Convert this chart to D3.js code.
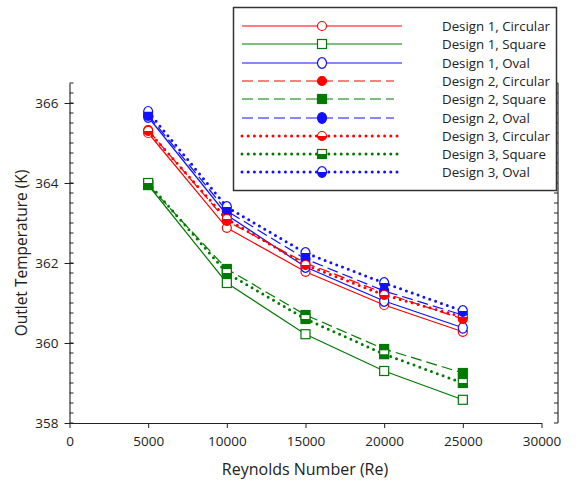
<!DOCTYPE html>
<html><head><meta charset="utf-8">
<script src="https://cdn.jsdelivr.net/npm/d3@7/dist/d3.min.js"></script>
<style>body{margin:0;background:#fff}svg{display:block}text{font-family:"Open Sans",sans-serif;fill:#222}</style>
</head><body><svg id="c" width="580" height="488"></svg>
<script>
const reynolds = [5000, 10000, 15000, 20000, 25000];
const d1Circular = [365.25, 362.88, 361.78, 360.95, 360.28];
const d1Square   = [363.95, 361.50, 360.22, 359.30, 358.58];
const d1Oval     = [365.65, 363.20, 361.90, 361.05, 360.38];
const d2Circular = [365.32, 363.05, 362.00, 361.25, 360.60];
const d2Square   = [363.95, 361.85, 360.70, 359.85, 359.25];
const d2Oval     = [365.70, 363.30, 362.10, 361.30, 360.70];
const d3Circular = [365.30, 363.10, 361.95, 361.20, 360.65];
const d3Square   = [364.00, 361.75, 360.60, 359.72, 359.00];
const d3Oval     = [365.78, 363.40, 362.25, 361.50, 360.80];
const xTicks = [0, 5000, 10000, 15000, 20000, 25000, 30000];
const yTicks = [358, 360, 362, 364, 366];
const seriesNames = ["Design 1, Circular","Design 1, Square","Design 1, Oval","Design 2, Circular","Design 2, Square","Design 2, Oval","Design 3, Circular","Design 3, Square","Design 3, Oval"];

const RED="#ff0000", GREEN="#007a00", BLUE="#1010ff";
const series = [
  {name:seriesNames[0], vals:d1Circular, color:RED,   style:"solid",  shape:"circle", fill:"open"},
  {name:seriesNames[1], vals:d1Square,   color:GREEN, style:"solid",  shape:"square", fill:"open"},
  {name:seriesNames[2], vals:d1Oval,     color:BLUE,  style:"solid",  shape:"oval",   fill:"open"},
  {name:seriesNames[3], vals:d2Circular, color:RED,   style:"dash",   shape:"circle", fill:"full"},
  {name:seriesNames[4], vals:d2Square,   color:GREEN, style:"dash",   shape:"square", fill:"full"},
  {name:seriesNames[5], vals:d2Oval,     color:BLUE,  style:"dash",   shape:"oval",   fill:"full"},
  {name:seriesNames[6], vals:d3Circular, color:RED,   style:"dot",    shape:"circle", fill:"half"},
  {name:seriesNames[7], vals:d3Square,   color:GREEN, style:"dot",    shape:"square", fill:"half"},
  {name:seriesNames[8], vals:d3Oval,     color:BLUE,  style:"dot",    shape:"oval",   fill:"half"}
];

const svg = d3.select("#c");
const x = d3.scaleLinear().domain([0, 30000]).range([69.5, 541.5]);
const y = d3.scaleLinear().domain([358, 366.5]).range([423, 83]);

// axes
const gx = svg.append("g").attr("transform","translate(0,423)")
  .call(d3.axisBottom(x).tickValues(xTicks).tickFormat(d3.format("d")).tickSizeInner(5).tickSizeOuter(0).tickPadding(8));
gx.select(".domain").attr("stroke","#222").attr("stroke-width",1.1);
gx.selectAll(".tick line").attr("stroke","#222");
gx.selectAll("text").attr("font-size",13.5).attr("fill","#222");

const yMinor = d3.range(358, 366.5001, 0.25);
const gy = svg.append("g").attr("transform","translate(69.5,0)")
  .call(d3.axisLeft(y).tickValues(yTicks).tickFormat(d3.format("d")).tickSizeInner(5).tickSizeOuter(0).tickPadding(6));
gy.select(".domain").attr("stroke","#222").attr("stroke-width",1.1);
gy.selectAll(".tick line").attr("stroke","#222").attr("x2",-5).attr("x1",4);
gy.selectAll("text").attr("font-size",13.5).attr("fill","#222");
gy.selectAll(".minor").data(yMinor).enter().append("line")
  .attr("x1",0).attr("x2",4).attr("y1",d=>y(d)).attr("y2",d=>y(d)).attr("stroke","#222");

// right axis
const gr = svg.append("g").attr("transform","translate(558,0)");
gr.append("line").attr("x1",0).attr("x2",0).attr("y1",y(366.5)).attr("y2",y(358)).attr("stroke","#222").attr("stroke-width",1.1);
gr.selectAll(".minor").data(yMinor).enter().append("line")
  .attr("x1",0).attr("x2",-4).attr("y1",d=>y(d)).attr("y2",d=>y(d)).attr("stroke","#222");

// titles
svg.append("text").attr("x",305).attr("y",475).attr("text-anchor","middle").attr("font-size",16).text("Reynolds Number (Re)");
svg.append("text").attr("transform","translate(27,253) rotate(-90)").attr("text-anchor","middle").attr("font-size",15.5).text("Outlet Temperature (K)");

function styleLine(sel, s){
  if(s.style==="solid") sel.attr("stroke-width",1.2);
  else if(s.style==="dash") sel.attr("stroke-width",1.2).attr("stroke-dasharray","11,5");
  else sel.attr("stroke-width",3).attr("stroke-dasharray","0,6.2").attr("stroke-linecap","round");
  return sel;
}
let clipId = 0;
function drawMarker(g, cx, cy, s){
  const r = 4.5;
  const fillCol = s.fill==="full" ? s.color : "#fff";
  const mk = (parent, f) => {
    if(s.shape==="circle") return parent.append("circle").attr("cx",cx).attr("cy",cy).attr("r",r).attr("fill",f);
    if(s.shape==="oval") return parent.append("ellipse").attr("cx",cx).attr("cy",cy).attr("rx",r).attr("ry",r+0.8).attr("fill",f);
    return parent.append("rect").attr("x",cx-r).attr("y",cy-r).attr("width",2*r).attr("height",2*r).attr("fill",f);
  };
  mk(g, fillCol).attr("stroke",s.color).attr("stroke-width",1.2);
  if(s.fill==="half"){
    const id = "hc"+(clipId++);
    g.append("clipPath").attr("id",id).append("rect").attr("x",cx-8).attr("y",cy).attr("width",16).attr("height",8);
    mk(g, s.color).attr("clip-path",`url(#${id})`);
  }
}

const line = d3.line().x((d,i)=>x(reynolds[i])).y(d=>y(d));
series.forEach(s=>{
  const g = svg.append("g");
  styleLine(g.append("path").datum(s.vals).attr("d",line).attr("fill","none").attr("stroke",s.color), s);
  s.vals.forEach((v,i)=>drawMarker(g, x(reynolds[i]), y(v), s));
});

// legend
const lg = svg.append("g");
lg.append("rect").attr("x",233.5).attr("y",7.5).attr("width",323).attr("height",183)
  .attr("fill","#fff").attr("stroke","#333").attr("stroke-width",1.5);
series.forEach((s,i)=>{
  const yy = Math.round(26 + i*18.3);
  const lx = s.style==="dash" ? 394 : 402;
  styleLine(lg.append("line").attr("x1",242).attr("x2",lx).attr("y1",yy).attr("y2",yy).attr("stroke",s.color), s);
  drawMarker(lg, 322, yy, s);
  lg.append("text").attr("x",442).attr("y",yy+5).attr("font-size",13.3).text(s.name);
});
</script></body></html>
